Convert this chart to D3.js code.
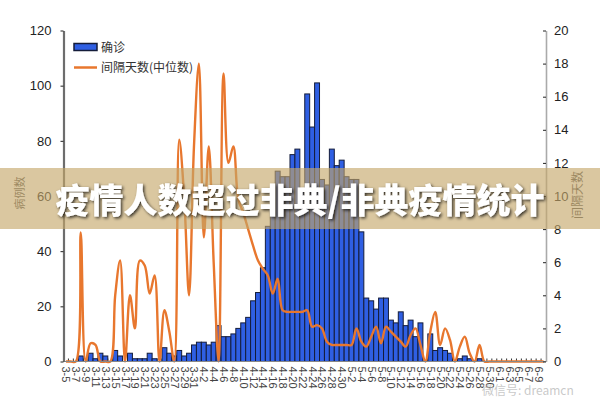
<!DOCTYPE html>
<html><head><meta charset="utf-8">
<script src="https://cdn.jsdelivr.net/npm/d3@7/dist/d3.min.js"></script>
<style>
html,body{margin:0;padding:0;background:#fff;}
svg{display:block;}
</style></head>
<body>
<svg id="chart" width="600" height="400"></svg>
<script>
const dates = ["3-5","3-6","3-7","3-8","3-9","3-10","3-11","3-12","3-13","3-14","3-15","3-16","3-17","3-18","3-19","3-20","3-21","3-22","3-23","3-24","3-25","3-26","3-27","3-28","3-29","3-30","3-31",
"4-1","4-2","4-3","4-4","4-5","4-6","4-7","4-8","4-9","4-10","4-11","4-12","4-13","4-14","4-15","4-16","4-17","4-18","4-19","4-20","4-21","4-22","4-23","4-24","4-25","4-26","4-27","4-28","4-29","4-30",
"5-1","5-2","5-3","5-4","5-5","5-6","5-7","5-8","5-9","5-10","5-11","5-12","5-13","5-14","5-15","5-16","5-17","5-18","5-19","5-20","5-21","5-22","5-23","5-24","5-25","5-26","5-27","5-28","5-29","5-30","5-31",
"6-1","6-2","6-3","6-4","6-5","6-6","6-7","6-8","6-9","6-10"];

const xTickLabels = ["3-5","3-7","3-9","3-11","3-13","3-15","3-17","3-19","3-21","3-23","3-25","3-27","3-29","3-31",
"4-2","4-4","4-6","4-8","4-10","4-12","4-14","4-16","4-18","4-20","4-22","4-24","4-26","4-28","4-30",
"5-2","5-4","5-6","5-8","5-10","5-12","5-14","5-16","5-18","5-20","5-22","5-24","5-26","5-28","5-30",
"6-1","6-3","6-5","6-7","6-9"];

// 确诊 (confirmed cases)
const cases = [0,0,0,2,0,3,1,3,2,0,4,2,0,3,1,1,1,3,1,0,5,3,2,4,2,3,6,
7,7,6,7,13,9,9,10,12,14,16,22,25,34,49,59,69,67,67,75,77,62,97,85,101,66,64,77,71,73,
67,66,66,47,23,22,19,23,23,15,14,18,13,15,9,14,0,10,4,5,4,3,0,1,2,1,0,1,0,0,0,
0,0,0,0,0,0,0,0,0,0];

// 间隔天数(中位数)
const interval = [0,0,0,7.8,0,1.1,1.0,0,0,0,4,6.1,0,4,2,6.1,5.8,4.1,5.2,0,3.1,1.8,0,13.4,10,4,13,
18,7.5,13,6,0,17.4,12,13,9.8,9,8,7,6.1,5.6,5.2,4.1,5,3.1,3,3,3,3,3.1,2.1,2.2,2,1.2,1,1,1,
1,1,2,1.2,0.9,1.5,2.1,1.1,2.1,1.8,1.5,1.2,0.9,1.6,2.0,1.0,0,1.8,3.0,1.0,2.0,1.3,0,0.9,1.5,0.5,0,1.0,0,0,0,
0,0,0,0,0,0,0,0,0,0];

const leftTicks = [0,20,40,60,80,100,120];
const rightTicks = [0,2,4,6,8,10,12,14,16,18,20];
const legendLabels = ["确诊","间隔天数(中位数)"];
const axisTitles = ["病例数","间隔天数"];
const titleText = "疫情人数超过非典/非典疫情统计";
const watermark = "微信号: dreamcn";

const svg = d3.select("#chart");
const X0 = 63.5, X1 = 546, Y0 = 361.5, Y1 = 30.5;
const numFont = "'Liberation Sans Narrow','Arial Narrow','Liberation Sans',Arial,sans-serif";
const cjkFont = "'Noto Sans CJK SC','Noto Sans',sans-serif";

const x = d3.scaleBand().domain(dates).range([X0, X1]).padding(0);
const yL = d3.scaleLinear().domain([0,120]).range([Y0, Y1]);
const yR = d3.scaleLinear().domain([0,20]).range([Y0, Y1]);
const bw = x.bandwidth();

// category tick marks (inside, at category boundaries)
svg.append("g").selectAll("line").data(dates.slice(1)).join("line")
  .attr("x1", d => x(d)).attr("x2", d => x(d))
  .attr("y1", Y0).attr("y2", Y0 - 3)
  .attr("stroke", "#333").attr("stroke-width", 1);

// bars
svg.append("g").selectAll("rect").data(dates.map((d,i)=>({d, v: cases[i]})).filter(o=>o.v>0)).join("rect")
  .attr("x", o => x(o.d)).attr("width", bw)
  .attr("y", o => yL(o.v)).attr("height", o => Y0 - yL(o.v))
  .attr("fill", "#2f5fe3").attr("stroke", "#141c3a").attr("stroke-width", 1);

// line
const line = d3.line()
  .x((v,i) => x(dates[i]) + bw/2)
  .y(v => yR(v))
  .curve(d3.curveCatmullRom.alpha(0.5));
svg.append("path").datum(interval)
  .attr("d", line).attr("fill", "none")
  .attr("stroke", "#e8772e").attr("stroke-width", 2.4).attr("stroke-linejoin","round");

// x axis baseline
svg.append("line").attr("x1", X0).attr("x2", X1).attr("y1", Y0).attr("y2", Y0)
  .attr("stroke", "#888").attr("stroke-width", 1);

// x labels
svg.append("g").selectAll("text").data(xTickLabels).join("text")
  .attr("transform", d => `translate(${x(d) + bw/2 - 3.5},${Y0 + 5}) rotate(90)`)
  .attr("font-family", numFont).attr("font-size", 11).attr("fill", "#444")
  .text(d => d);

// left axis
const gL = svg.append("g").attr("transform", `translate(${X0},0)`)
  .call(d3.axisLeft(yL).tickValues(leftTicks).tickSize(3).tickSizeOuter(0).tickPadding(9));
gL.select(".domain").attr("stroke", "#6d6d6d").attr("stroke-width", 2.2);
gL.selectAll(".tick line").attr("stroke", "#222");
gL.selectAll("text").attr("font-family", numFont).attr("font-size", 13).attr("fill", "#222");

// right axis
const gR = svg.append("g").attr("transform", `translate(${X1},0)`)
  .call(d3.axisRight(yR).tickValues(rightTicks).tickSize(-3).tickSizeOuter(0).tickPadding(8));
gR.select(".domain").attr("stroke", "#aaa").attr("stroke-width", 1.6);
gR.selectAll(".tick line").attr("stroke", "#222");
gR.selectAll("text").attr("font-family", numFont).attr("font-size", 13).attr("fill", "#222");

// axis titles
svg.append("text").attr("transform", "translate(24,193) rotate(-90)")
  .attr("text-anchor","middle").attr("font-family", cjkFont).attr("font-size", 11).attr("fill","#555")
  .text(axisTitles[0]);
svg.append("text").attr("transform", "translate(582,195) rotate(-90)")
  .attr("text-anchor","middle").attr("font-family", cjkFont).attr("font-size", 12).attr("fill","#555")
  .text(axisTitles[1]);

// legend
const lg = svg.append("g");
lg.append("rect").attr("x", 74).attr("y", 43.5).attr("width", 23).attr("height", 7)
  .attr("fill", "#2f5fe3").attr("stroke", "#141c3a").attr("stroke-width", 1.5);
lg.append("text").attr("x", 101).attr("y", 51.5).attr("font-family", cjkFont).attr("font-size", 12).attr("fill","#333").text(legendLabels[0]);
lg.append("line").attr("x1", 74).attr("x2", 97).attr("y1", 67.5).attr("y2", 67.5)
  .attr("stroke", "#e8772e").attr("stroke-width", 2.5);
lg.append("text").attr("x", 101).attr("y", 71.5).attr("font-family", cjkFont).attr("font-size", 12).attr("fill","#333").text(legendLabels[1]);

// banner
svg.append("rect").attr("x", 0).attr("y", 168).attr("width", 600).attr("height", 61)
  .attr("fill", "rgb(196,167,104)").attr("fill-opacity", 0.63);

const defs = svg.append("defs");
const f = defs.append("filter").attr("id","sh").attr("x","-10%").attr("y","-30%").attr("width","120%").attr("height","160%");
f.append("feDropShadow").attr("dx",1.5).attr("dy",1.5).attr("stdDeviation",1.8).attr("flood-color","#000").attr("flood-opacity",0.75);

svg.append("text").attr("x", 300).attr("y", 213).attr("text-anchor","middle")
  .attr("font-family", cjkFont).attr("font-weight", 900).attr("font-size", 34)
  .attr("fill", "#fff").attr("filter","url(#sh)")
  .text(titleText);

// watermark
svg.append("text").attr("x", 482).attr("y", 395).attr("font-family", cjkFont).attr("font-size", 12)
  .attr("fill", "#bbb").attr("fill-opacity", 0.8).text(watermark);
</script>
</body></html>
